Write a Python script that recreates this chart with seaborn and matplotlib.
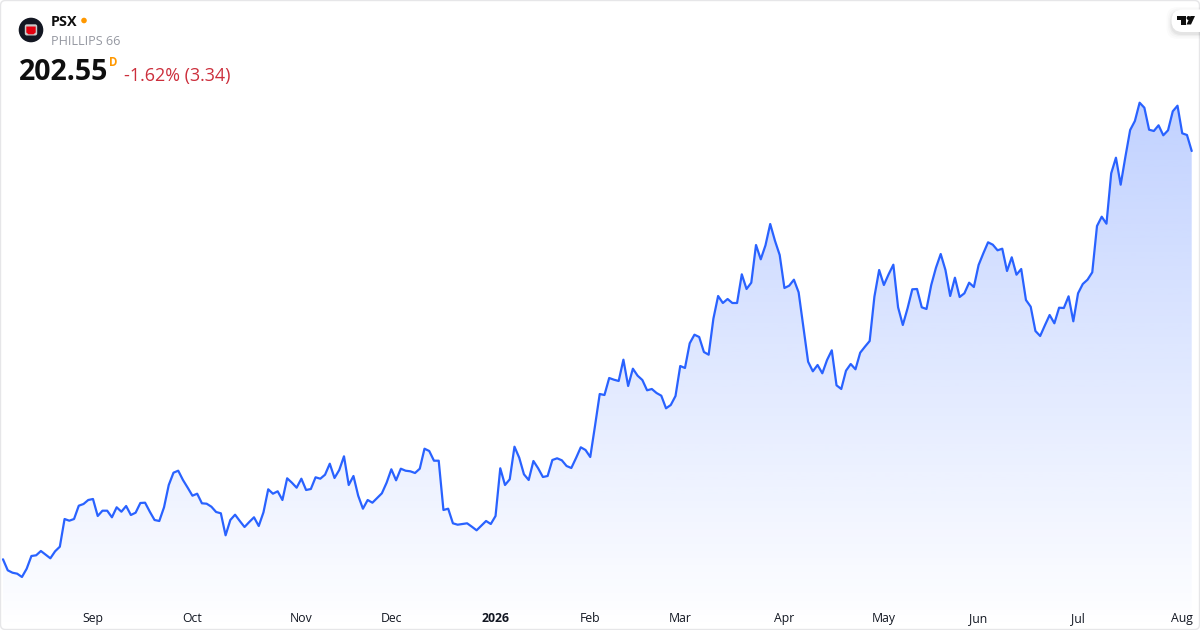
import numpy as np
import pandas as pd
import matplotlib.pyplot as plt
import seaborn as sns
from matplotlib.patches import Circle, FancyBboxPatch, Polygon

# Daily closes, one list per stretch between month labels
aug = [120.89, 118.69, 118.21, 118.01, 117.35, 119.01, 121.55, 121.69, 122.55, 121.81,
       121.09, 122.49, 123.41, 128.95, 128.61, 128.95, 131.61, 131.95, 132.75]
sep = [132.95, 129.55, 130.61, 130.61, 129.29, 131.29, 130.41, 131.55, 129.75, 130.21,
       132.15, 132.21, 130.41, 128.75, 128.55, 131.29, 135.75, 138.21, 138.61, 136.75,
       135.21]
oct_ = [133.61, 134.01, 132.09, 132.01, 131.41, 130.35, 130.09, 125.69, 128.75, 129.81,
        128.55, 127.35, 128.35, 129.29, 127.55, 130.29, 134.89, 134.01, 134.49, 132.75,
        137.09, 136.21, 135.21]
nov = [137.01, 134.75, 134.95, 137.29, 137.01, 137.81, 140.01, 137.15, 138.75, 141.49,
       135.75, 137.55, 133.61, 131.01, 132.75, 132.21, 133.15, 134.09, 136.21]
dec = [138.89, 136.69, 139.01, 138.61, 138.49, 138.15, 139.01, 143.01, 142.55, 140.61,
       140.61, 130.75, 131.01, 128.09, 127.81, 127.95, 128.09, 127.41, 126.69, 127.61,
       128.55, 127.95]
jan = [129.55, 139.09, 135.75, 136.89, 143.41, 141.21, 137.89, 136.75, 140.55, 139.09,
       137.35, 137.55, 140.75, 141.09, 140.69, 139.55, 139.15, 141.15, 143.29, 142.75]
feb = [141.35, 147.55, 153.95, 153.75, 157.15, 156.81, 156.55, 160.81, 155.55, 159.01,
       157.61, 156.75, 154.69, 154.95, 154.15, 153.61, 151.09, 151.75, 153.55]
mar = [159.55, 159.15, 164.09, 165.81, 165.35, 162.35, 161.81, 169.01, 173.55, 172.15,
       172.95, 172.15, 172.15, 177.89, 174.95, 176.21, 183.75, 180.89, 183.69, 187.95,
       184.61, 181.75]
apr = [175.15, 175.61, 176.81, 174.29, 167.41, 160.41, 158.49, 159.75, 158.09, 160.75,
       162.69, 155.69, 154.95, 158.61, 159.95, 158.89, 162.21, 163.41, 164.55, 173.41,
       178.75]
may = [175.75, 177.89, 179.81, 171.29, 167.75, 171.09, 174.89, 174.95, 171.29, 170.95,
       175.75, 179.21, 181.95, 178.75, 173.55, 177.21, 173.35, 174.09, 176.21, 175.35]
jun = [179.75, 182.09, 184.29, 183.81, 182.69, 183.01, 178.55, 181.29, 177.81, 178.95,
       172.75, 171.41, 166.55, 165.55, 167.69, 169.75, 168.09, 171.21, 171.15, 173.49,
       168.49]
jul = [174.09, 175.95, 176.81, 178.29, 187.55, 189.41, 188.01, 198.09, 201.21, 195.81,
       201.41, 206.75, 208.55, 212.21, 211.21, 206.81, 206.55, 207.69, 205.69, 206.69,
       210.49, 211.61, 206.09, 205.75, 202.55]

month_labels = ["Sep", "Oct", "Nov", "Dec", "2026", "Feb", "Mar", "Apr", "May", "Jun", "Jul", "Aug"]
month_days = [19, 40, 63, 82, 104, 124, 143, 165, 186, 206, 227, 249]

prices = aug + sep + oct_ + nov + dec + jan + feb + mar + apr + may + jun + jul
df = pd.DataFrame({"day": range(len(prices)), "close": prices})

sns.set_theme(style="white")
plt.rcParams["font.family"] = ["Open Sans", "DejaVu Sans"]

BLUE = "#2962FF"
INK = "#131722"
X_RANGE = (-0.634, 252.75)
Y_RANGE = (106.75, 232.75)

fig = plt.figure(figsize=(12, 6.3), dpi=100, facecolor="white")
ax = fig.add_axes([0, 0, 1, 1])

# Area under the line, a vertical gradient clipped to the price shape
grad = np.zeros((256, 1, 4))
grad[..., :3] = (41 / 255, 98 / 255, 1.0)
grad[..., 3] = np.linspace(0.29, 0.0, 256).reshape(-1, 1)
img = ax.imshow(grad, aspect="auto", origin="upper", interpolation="bilinear",
                extent=(0, len(prices) - 1, Y_RANGE[0], max(prices)), zorder=1)
area = ax.fill_between(df["day"], df["close"], Y_RANGE[0], color="none", lw=0)
img.set_clip_path(area.get_paths()[0], transform=ax.transData)

sns.lineplot(data=df, x="day", y="close", color=BLUE, linewidth=1.6, ax=ax, zorder=2)

ax.set_xlim(*X_RANGE)
ax.set_ylim(*Y_RANGE)
ax.set_xlabel("")
ax.set_ylabel("")
ax.set_yticks([])
ax.set_xticks(month_days)
ax.set_xticklabels(month_labels, fontsize=8.8, color=INK)
ax.tick_params(axis="x", length=0, pad=-12.8)
for lab in ax.get_xticklabels():
    if lab.get_text() == "2026":
        lab.set_fontweight("bold")
ax.grid(False)
sns.despine(ax=ax, left=True, bottom=True)

# Header, logos and frame are placed in pixel coordinates on an overlay
ov = fig.add_axes([0, 0, 1, 1])
ov.set_xlim(0, 1200)
ov.set_ylim(630, 0)
ov.axis("off")
ov.patch.set_alpha(0)

ov.add_patch(FancyBboxPatch((0.5, 0.5), 1199, 629, boxstyle="round,pad=0,rounding_size=5",
                            fc="none", ec="#E6E6E8", lw=1))

ov.add_patch(Circle((31, 30), 12.3, fc=INK, ec="none"))
ov.add_patch(FancyBboxPatch((24.8, 24.3), 12.4, 11.2, boxstyle="round,pad=0,rounding_size=2",
                            fc="#C9C9C9", ec="none"))
ov.add_patch(Polygon([(26.3, 26.5), (35.7, 26.5), (35.7, 32.5), (33.5, 34.3), (28.5, 34.3), (26.3, 32.5)],
                     fc="#E3000F", ec="none"))

ov.text(51, 22, "PSX", fontsize=10.4, fontweight="bold", color="#0F0F0F", va="center")
ov.add_patch(Circle((84, 20.5), 2.8, fc="#FF9800", ec="none"))
ov.text(51, 41.5, "PHILLIPS 66", fontsize=9.1, color="#9598A1", va="center")
ov.text(18.5, 72.5, "202.55", fontsize=20.5, fontweight="bold", color="#0F0F0F", va="center")
ov.text(109, 62, "D", fontsize=8.3, fontweight="bold", color="#FF9800", va="center")
ov.text(124, 76, "-1.62% (3.34)", fontsize=12.9, color="#CC2F3C", va="center")

# TradingView badge with a soft shadow
for grow, alpha in [(5, 0.015), (3.5, 0.02), (2, 0.03), (1, 0.04)]:
    ov.add_patch(FancyBboxPatch((1171.5 - grow, 10 - grow + 2), 60, 22 + 2 * grow,
                                boxstyle="round,pad=0,rounding_size=11", fc="black", alpha=alpha,
                                ec="none"))
ov.add_patch(FancyBboxPatch((1171.5, 9.5), 60, 22.5, boxstyle="round,pad=0,rounding_size=11",
                            fc="white", ec="none"))
ov.add_patch(Polygon([(1177, 16), (1186, 16), (1186, 24.5), (1181, 24.5), (1181, 20), (1177, 20)],
                     fc="#0F0F0F", ec="none"))
ov.add_patch(Circle((1188.6, 18), 2, fc="#0F0F0F", ec="none"))
ov.add_patch(Polygon([(1190.5, 16), (1195, 16), (1191, 24.5), (1186.5, 24.5)], fc="#0F0F0F", ec="none"))

fig.savefig("out.png", dpi=100)
plt.close(fig)
